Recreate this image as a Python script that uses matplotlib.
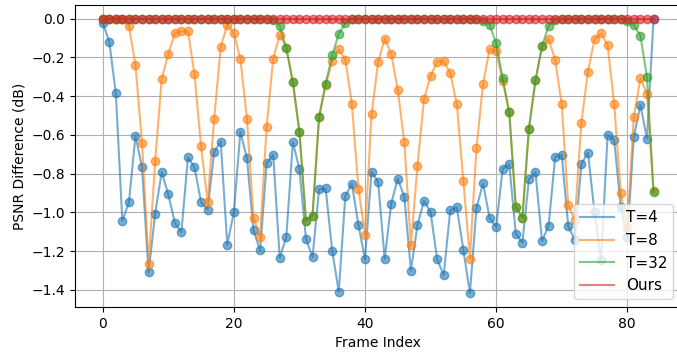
import matplotlib
matplotlib.use('Agg')
import matplotlib.pyplot as plt
import numpy as np

frames = np.arange(85)

# PSNR difference per frame (dB)
t4 = [-0.02, -0.118, -0.384, -1.044, -0.947, -0.605, -0.767, -1.31, -1.006, -0.792,
      -0.906, -1.054, -1.103, -0.716, -0.767, -0.947, -0.985, -0.687, -0.635, -1.167,
      -0.999, -0.584, -0.721, -1.092, -1.196, -0.747, -0.702, -1.234, -1.127, -0.638,
      -0.775, -1.137, -1.231, -0.881, -0.876, -1.198, -1.409, -0.916, -0.852, -1.065,
      -1.241, -0.79, -0.842, -1.24, -0.954, -0.826, -0.919, -1.3, -1.066, -0.94,
      -0.997, -1.241, -1.324, -0.989, -0.973, -1.192, -1.417, -0.978, -0.85, -1.028,
      -1.075, -0.774, -0.752, -1.109, -1.156, -0.829, -0.792, -1.148, -1.068, -0.714,
      -0.703, -1.072, -1.141, -0.751, -0.691, -0.999, -1.248, -0.6, -0.626, -0.971,
      -1.127, -0.609, -0.446, -0.619, 0.0]

t8 = [0.0, 0.0, 0.0, 0.0, -0.038, -0.24, -0.643, -1.265, -0.736, -0.311,
      -0.183, -0.076, -0.065, -0.065, -0.287, -0.657, -0.947, -0.518, -0.146, -0.031,
      -0.074, -0.209, -0.518, -1.027, -1.127, -0.557, -0.207, -0.083, -0.151, -0.327,
      -0.584, -1.044, -1.016, -0.507, -0.342, -0.221, -0.159, -0.211, -0.441, -0.878,
      -1.115, -0.494, -0.225, -0.104, -0.18, -0.367, -0.638, -1.17, -0.762, -0.415,
      -0.297, -0.222, -0.22, -0.28, -0.441, -0.837, -1.239, -0.667, -0.339, -0.156,
      -0.169, -0.322, -0.484, -0.971, -1.027, -0.567, -0.318, -0.142, -0.104, -0.214,
      -0.441, -0.963, -1.04, -0.536, -0.273, -0.107, -0.076, -0.138, -0.439, -0.899,
      -1.08, -0.505, -0.308, -0.387, -0.89]

t32 = [0.0] * 26 + [-0.005, -0.038, -0.151, -0.327, -0.584, -1.044, -1.016, -0.507,
                    -0.335, -0.19, -0.078, -0.024] \
    + [0.0] * 20 + [-0.01, -0.031, -0.128, -0.308, -0.484, -0.971, -1.027, -0.567,
                    -0.318, -0.142, -0.038, -0.005] \
    + [0.0] * 10 + [-0.01, -0.034, -0.087, -0.301, -0.895]

ours = [0.0] * 85

fig, ax = plt.subplots(figsize=(6.77, 3.52), dpi=100)
# right edge sits just past the image border, as in the reference crop
fig.subplots_adjust(left=0.111, right=1.006, bottom=0.128, top=0.986)

ax.plot(frames, t4, '-o', alpha=0.6, label='T=4')
ax.plot(frames, t8, '-o', alpha=0.6, label='T=8')
ax.plot(frames, t32, '-o', alpha=0.6, label='T=32')
ax.plot(frames, ours, '-o', alpha=0.6, label='Ours')

ax.set_xlabel('Frame Index')
ax.set_ylabel('PSNR Difference (dB)')
ax.grid(True)

leg = ax.legend(loc='lower right', fontsize=11, handlelength=2.2)
for h in leg.legend_handles:
    h.set_marker('None')

fig.savefig('out.png', dpi=100)
